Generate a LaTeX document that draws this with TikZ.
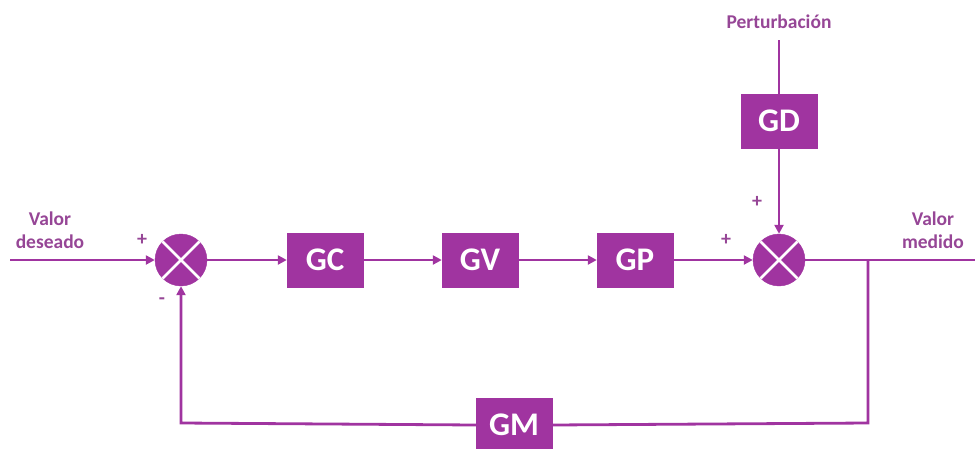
\documentclass[tikz,border=0pt]{standalone}
\usepackage{fontspec}
\setmainfont{Carlito}
\usetikzlibrary{arrows.meta}
\definecolor{pur}{RGB}{160,52,160}
\definecolor{purtxt}{RGB}{150,70,150}
\begin{document}
\begin{tikzpicture}[x=1pt,y=-1pt,
  blk/.style={fill=pur,draw=pur,minimum width=76pt,minimum height=54pt,inner sep=0pt,text=white,font=\bfseries\fontsize{33}{33}\selectfont},
  sumj/.style={circle,fill=pur,draw=pur,minimum size=52pt,inner sep=0pt},
  lbl/.style={text=purtxt,font=\bfseries\fontsize{19.5}{23}\selectfont,align=center},
  sgn/.style={text=purtxt,font=\bfseries\fontsize{20}{20}\selectfont},
  wire/.style={draw=pur,line width=2.8pt},
  arr/.style={wire,-{Triangle[length=9pt,width=9pt]}}]
\useasboundingbox (0,0) rectangle (975,448);
\node[sumj] (s1) at (181,260) {};
\node[sumj] (s2) at (779,260) {};
\foreach \s in {s1,s2}{
  \draw[white,line width=2.5pt] (\s.north east) -- (\s.south west);
  \draw[white,line width=2.5pt] (\s.north west) -- (\s.south east);
}
\node[blk] (gc) at (325,260) {GC};
\node[blk] (gv) at (480,260) {GV};
\node[blk] (gp) at (635,260) {GP};
\node[blk] (gd) at (779,121) {GD};
\node[blk] (gm) at (514,425) {GM};
\node[lbl] (pert) at (779,22) {Perturbación};
\node[lbl] (vd) at (50,230) {Valor\\deseado};
\node[lbl] (vm) at (933,230) {Valor\\medido};
\node[sgn] (p1) at (142,240) {+};
\node[sgn] (m1) at (162,301) {-};
\node[sgn] (p2) at (757,202) {+};
\node[sgn] (p3) at (726,240) {+};
\coordinate (in) at (10,260);
\coordinate (out) at (975,260);
\coordinate (br) at (868,260);
\coordinate (brd) at (868,423);
\coordinate (fbl) at (181,423);
\coordinate (ptop) at (779,40);
\draw[arr] (in) -- (s1.west);
\draw[arr] (s1.east) -- (gc.west);
\draw[arr] (gc.east) -- (gv.west);
\draw[arr] (gv.east) -- (gp.west);
\draw[arr] (gp.east) -- (s2.west);
\draw[wire] (ptop) -- (gd.north);
\draw[arr] (gd.south) -- (s2.north);
\draw[wire] (s2.east) -- (out);
\draw[wire] (br) -- (brd) -- (gm.east);
\draw[arr] (gm.west) -- (fbl) -- (s1.south);
\end{tikzpicture}
\end{document}
